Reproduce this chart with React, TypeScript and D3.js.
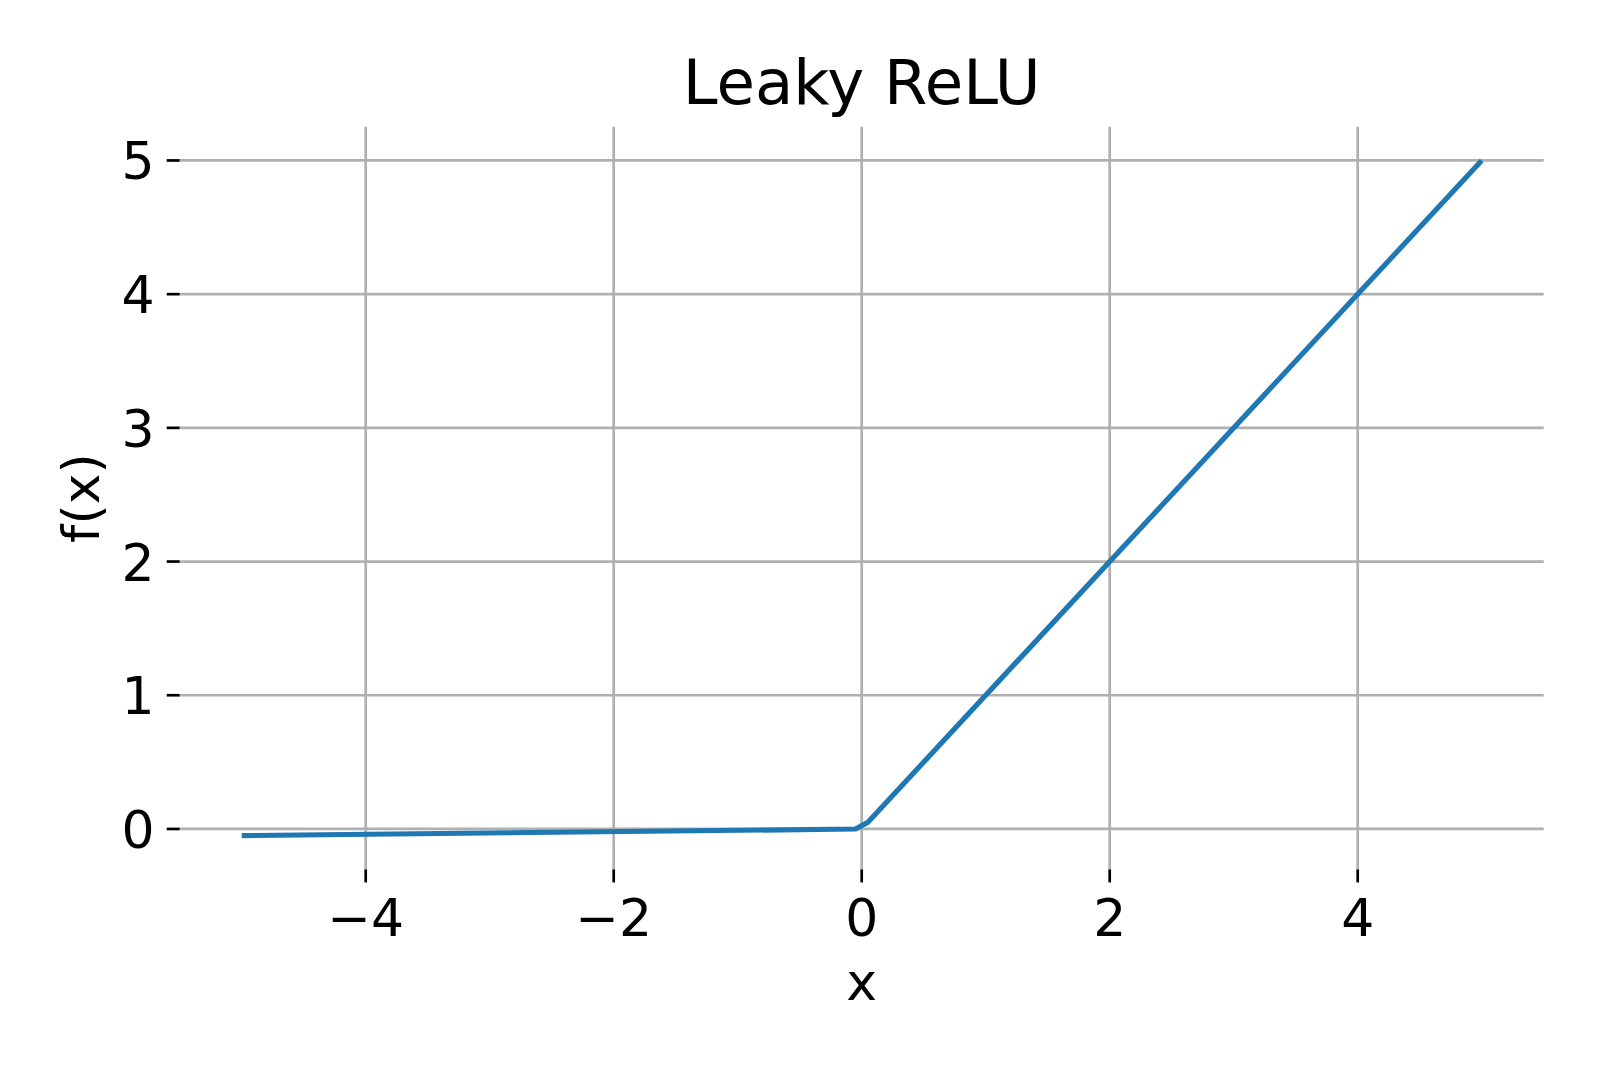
import React from "react";
import * as d3 from "d3";

const xValues = [-5, -0.05, 0.05, 5];
const yValues = [-0.05, -0.0005, 0.05, 5];
const xTicks = [-4, -2, 0, 2, 4];
const yTicks = [0, 1, 2, 3, 4, 5];
const title = "Leaky ReLU";
const xLabel = "x";
const yLabel = "f(x)";

const W = 1600;
const H = 1067;
const left = 179.7;
const right = 1543.7;
const top = 126.7;
const bottom = 869.4;
const FONT = "DejaVu Sans, sans-serif";

export default function App() {
  const x = d3.scaleLinear().domain([-5.5, 5.5]).range([left, right]);
  const y = d3.scaleLinear().domain([-0.3025, 5.2525]).range([bottom, top]);
  const pts = xValues.map((v, i) => [v, yValues[i]] as [number, number]);
  const line = d3
    .line<[number, number]>()
    .x((d) => x(d[0]))
    .y((d) => y(d[1]));
  const fmt = (v: number) => (v < 0 ? "\u2212" + Math.abs(v) : String(v));
  const fs = 52;
  return (
    <svg
      width={W}
      height={H}
      style={{ position: "absolute", left: 0, top: 0, background: "#fff" }}
      fontFamily={FONT}
    >
      <rect x={0} y={0} width={W} height={H} fill="#fff" />
      {xTicks.map((t) => (
        <g key={"xg" + t}>
          <line x1={x(t)} x2={x(t)} y1={top} y2={bottom} stroke="#b0b0b0" strokeWidth={2.7} />
          <line x1={x(t)} x2={x(t)} y1={bottom} y2={bottom + 13} stroke="#000" strokeWidth={2.7} />
          <text x={x(t)} y={bottom + 67} textAnchor="middle" fontSize={fs} fill="#000">
            {fmt(t)}
          </text>
        </g>
      ))}
      {yTicks.map((t) => (
        <g key={"yg" + t}>
          <line x1={left} x2={right} y1={y(t)} y2={y(t)} stroke="#b0b0b0" strokeWidth={2.7} />
          <line x1={left - 13} x2={left} y1={y(t)} y2={y(t)} stroke="#000" strokeWidth={2.7} />
          <text x={left - 25} y={y(t) + 19} textAnchor="end" fontSize={fs} fill="#000">
            {fmt(t)}
          </text>
        </g>
      ))}
      <path d={line(pts) || ""} fill="none" stroke="#1f77b4" strokeWidth={5.2} strokeLinejoin="round" />
      <text x={(left + right) / 2} y={104} textAnchor="middle" fontSize={62.5} fill="#000">
        {title}
      </text>
      <text x={(left + right) / 2} y={1000} textAnchor="middle" fontSize={fs} fill="#000">
        {xLabel}
      </text>
      <text
        transform={`translate(${99},${(top + bottom) / 2}) rotate(-90)`}
        textAnchor="middle"
        fontSize={fs}
        fill="#000"
      >
        {yLabel}
      </text>
    </svg>
  );
}
